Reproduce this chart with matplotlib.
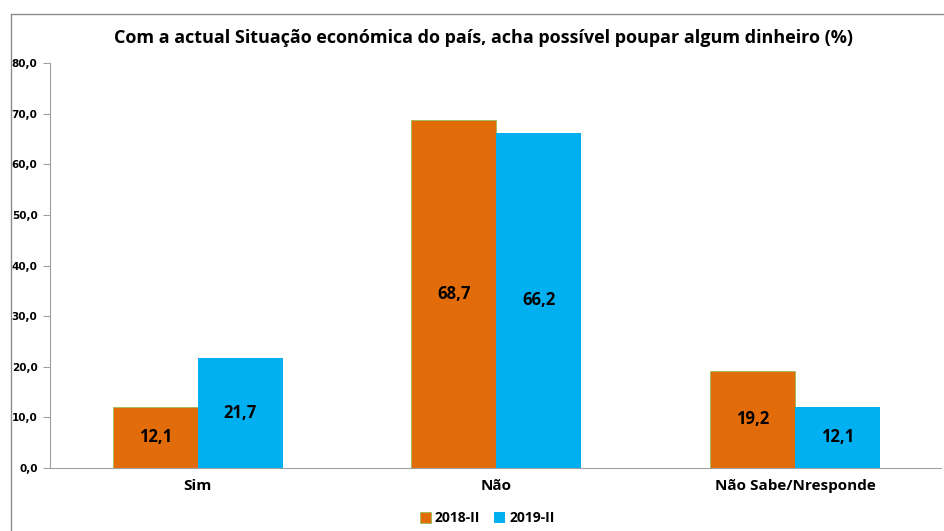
import numpy as np
import matplotlib.pyplot as plt
from matplotlib.lines import Line2D

# Data
categories = ["Sim", "Não", "Não Sabe/Nresponde"]
series_names = ["2018-II", "2019-II"]
values_2018 = [12.1, 68.7, 19.2]
values_2019 = [21.7, 66.2, 12.1]
colors = ["#E36C0A", "#00B0F0"]

fig = plt.figure(figsize=(9.44, 5.31), dpi=100)
ax = fig.add_axes([0.053, 0.1186, 0.944, 0.7627])

x = np.arange(len(categories))
w = 0.285
b1 = ax.bar(x - w / 2, values_2018, w, color=colors[0], edgecolor="#9BBB59", linewidth=0.6, label=series_names[0])
b2 = ax.bar(x + w / 2, values_2019, w, color=colors[1], linewidth=0, label=series_names[1])

for bars, vals in [(b1, values_2018), (b2, values_2019)]:
    for rect, v in zip(bars, vals):
        ax.text(rect.get_x() + rect.get_width() / 2, v / 2, f"{v:.1f}".replace(".", ","),
                ha="center", va="center", fontsize=12, fontweight="bold", family="Open Sans")

ax.set_xlim(-0.495, 2.49)
ax.set_ylim(0, 80)
ax.set_yticks(np.arange(0, 81, 10))
ax.set_yticklabels([f"{t:.1f}".replace(".", ",") for t in np.arange(0, 81, 10)],
                   fontsize=7.5, fontweight="bold")
ax.set_xticks(x)
ax.set_xticklabels(categories, fontsize=11, fontweight="bold", family="Open Sans")
ax.tick_params(axis="x", length=0, pad=8)
ax.tick_params(axis="y", length=5, color="#A0A0A0", pad=4)
ax.spines["top"].set_visible(False)
ax.spines["right"].set_visible(False)
ax.spines["left"].set_color("#A0A0A0")
ax.spines["bottom"].set_color("#A0A0A0")

fig.text(0.512, 0.928, "Com a actual Situação económica do país, acha possível poupar algum dinheiro (%)",
         ha="center", va="center", fontsize=13, fontweight="bold", family="Open Sans")

fig.legend(loc="center", bbox_to_anchor=(0.516, 0.024), ncol=2, frameon=False,
           prop={"family": "Open Sans", "weight": "bold", "size": 10},
           handlelength=0.8, handleheight=0.8, handletextpad=0.3, columnspacing=1.0)

# outer chart-area border (left and top edges only visible)
fx = 10.5 / 944
fy = 1 - 13.5 / 531
fig.add_artist(Line2D([fx, fx], [0, fy], transform=fig.transFigure, color="#8C8C8C", linewidth=1.0))
fig.add_artist(Line2D([fx, 1.01], [fy, fy], transform=fig.transFigure, color="#8C8C8C", linewidth=1.0,
                      solid_capstyle="butt"))

fig.savefig("out.png", dpi=100)
